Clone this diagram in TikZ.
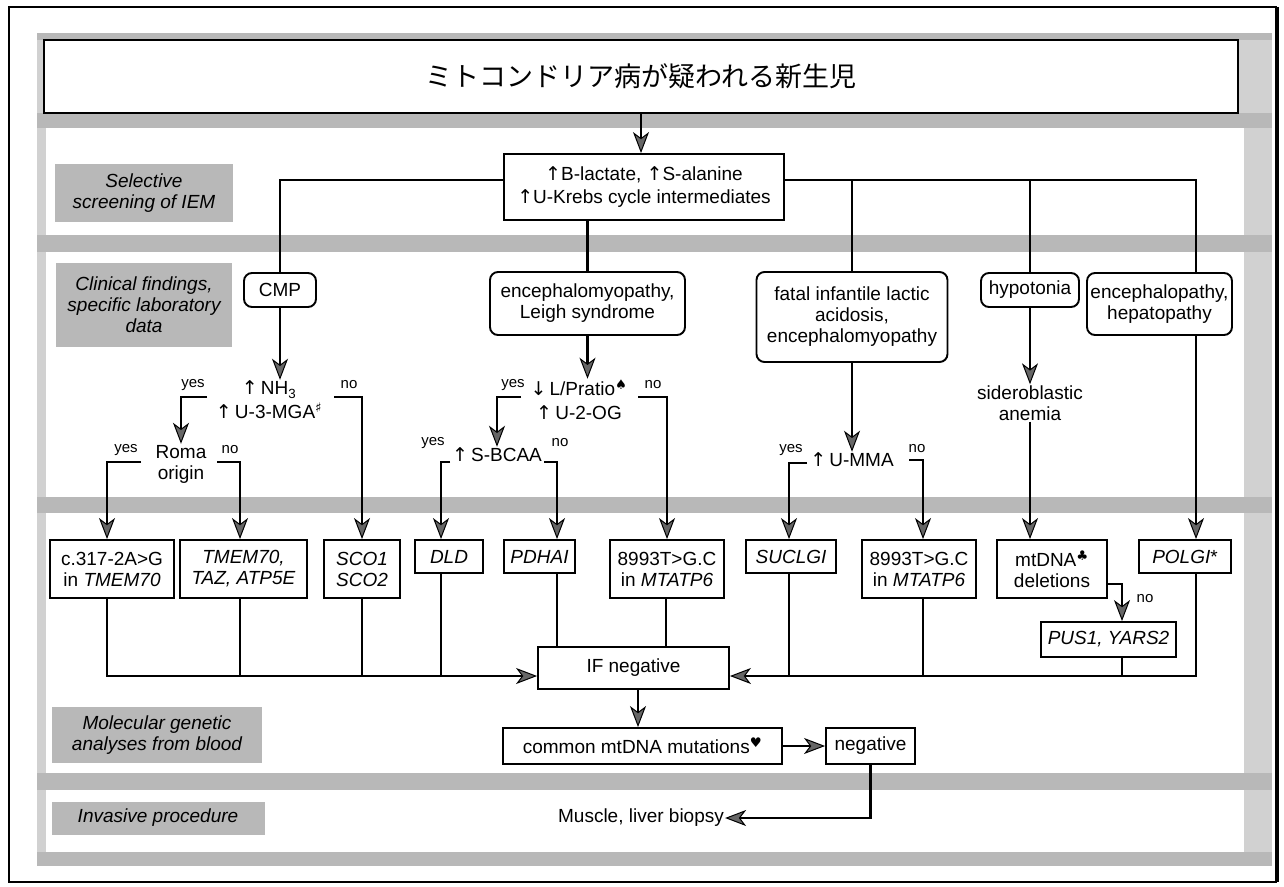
\documentclass[tikz,border=0pt]{standalone}
\usepackage{fontspec}
\setmainfont{Liberation Sans}
\newfontfamily\cjk{Noto Sans CJK JP}
\newfontfamily\symf{DejaVu Sans}
\usetikzlibrary{arrows.meta}
\newcommand\mainfs{\fontsize{19}{21}\selectfont}
\newcommand\ynfs{\fontsize{15}{17}\selectfont}
\newcommand\upa{{\symf ↑}}
\newcommand\dna{{\symf ↓}}
\definecolor{bggray}{gray}{0.82}
\definecolor{stripegray}{gray}{0.72}
\definecolor{lblgray}{gray}{0.72}
\definecolor{arrgray}{gray}{0.40}
\tikzset{
  box/.style={draw, line width=1.9pt, fill=white, inner sep=0pt, align=center, font=\mainfs},
  rbox/.style={box, rounded corners=8pt},
  lbl/.style={fill=lblgray, inner sep=0pt, align=center, font=\mainfs\itshape},
  txt/.style={inner sep=1pt, align=center, font=\mainfs},
  yn/.style={inner sep=0pt, font=\ynfs},
  conn/.style={line width=2.5pt},
  arr/.style={conn, -{Stealth[length=21pt, width=16pt, inset=6pt, fill=arrgray, line width=1pt]}}
}
\begin{document}
\begin{tikzpicture}[x=1pt,y=-1pt]
\fill[white] (0,0) rectangle (1284,886);
\useasboundingbox (0,0) rectangle (1284,886);
% background
\fill[bggray] (37,33) rectangle (1272,866);
\foreach \a/\b in {33/40,113/128,235/252,497/513,773/790,852/866}
  \fill[stripegray] (37,\a) rectangle (1272,\b);
\foreach \a/\b in {128/235,252/497,513/773,790/852}
  \fill[white] (46,\a) rectangle (1244,\b);
\draw[line width=1.4pt] (9,7) rectangle (1276,882);
\draw[line width=4pt] (1277,7) -- (1277,882);

% title
\node[box, line width=2pt, minimum width=1194pt, minimum height=73pt, font=\cjk\fontsize{27}{30}\selectfont] (title) at (641,76.5) {ミトコンドリア病が疑われる新生児};

% section labels
\node[lbl, minimum width=178pt, minimum height=58pt] (Lsel) at (144,193) {Selective\\screening of IEM};
\node[lbl, minimum width=176pt, minimum height=84pt] (Lclin) at (144,305) {Clinical findings,\\specific laboratory\\data};
\node[lbl, minimum width=210pt, minimum height=56pt] (Lmol) at (157,735) {Molecular genetic\\analyses from blood};
\node[lbl, minimum width=213pt, minimum height=33pt] (Linv) at (158,818) {Invasive procedure};

% screening
\node[box, minimum width=280pt, minimum height=66pt] (scr) at (644,187) {\upa B-lactate, \upa S-alanine\\[2pt]\upa U-Krebs cycle intermediates};
\draw[arr] (title.south) -- (title.south |- scr.north);

% clinical boxes
\node[rbox, minimum width=72pt, minimum height=34pt] (cmp) at (280,290) {CMP};
\node[rbox, minimum width=195pt, minimum height=63pt] (enc) at (587.5,303.5) {encephalomyopathy,\\Leigh syndrome};
\node[rbox, minimum width=191pt, minimum height=90pt] (fatal) at (852,317) {fatal infantile lactic\\acidosis,\\encephalomyopathy};
\node[rbox, minimum width=98pt, minimum height=34pt] (hypo) at (1030,290) {hypotonia};
\node[rbox, minimum width=145pt, minimum height=62pt] (hep) at (1159.5,304) {encephalopathy,\\hepatopathy};

\coordinate (bF) at (852,180);
\coordinate (bH) at (1030,180);
\draw[conn] (scr.west |- 0,180) -| (cmp.north);
\draw[conn] (scr.east |- 0,180) -| (1196,0 |- hep.north);
\draw[conn] (scr.south -| enc.north) -- (enc.north);
\draw[conn] (bF) -- (fatal.north);
\draw[conn] (bH) -- (hypo.north);

% decision texts
\node[txt] (nh3) at (269,400) {\upa\,NH\textsubscript{3}\\[3pt]\upa\,U-3-MGA\textsuperscript{\symf ♯}};
\node[txt] (lp) at (579,400) {\dna\,L/Pratio\textsuperscript{\symf ♠}\\[3pt]\upa\,U-2-OG};
\node[txt] (roma) at (181,464) {Roma\\origin};
\node[txt] (sbcaa) at (497,455) {\upa\,S-BCAA};
\node[txt] (umma) at (852,460) {\upa\,U-MMA};
\node[txt] (sid) at (1030,403) {sideroblastic\\anemia};

\draw[arr] (cmp.south) -- (cmp.south |- nh3.north);
\draw[arr] (enc.south) -- (enc.south |- lp.north);
\draw[arr] (fatal.south) -- (fatal.south |- umma.north);
\draw[arr] (hypo.south) -- (hypo.south |- sid.north);

% yes / no labels
\node[yn] (y1) at (193,385) {yes};
\node[yn] (n1) at (349,385) {no};
\node[yn] (y2) at (126,450) {yes};
\node[yn] (n2) at (230,450) {no};
\node[yn] (y3) at (513,385) {yes};
\node[yn] (n3) at (653,385) {no};
\node[yn] (y4) at (433,443) {yes};
\node[yn] (n4) at (560,443) {no};
\node[yn] (y5) at (791,450) {yes};
\node[yn] (n5) at (917,449) {no};
\node[yn] (n6) at (1145,599) {no};

\coordinate (y1s) at (207,397);
\coordinate (n1s) at (334,397);
\coordinate (y2s) at (141,462);
\coordinate (n2s) at (217,462);
\coordinate (y3s) at (521,397);
\coordinate (n3s) at (638,397);
\coordinate (y4s) at (450,462);
\coordinate (n4s) at (544,462);
\coordinate (y5s) at (807,463);
\coordinate (n5s) at (909,460);

% molecular boxes
\node[box, minimum width=124pt, minimum height=58pt] (c317) at (112,569) {c.317-2A>G\\in \textit{TMEM70}};
\node[box, minimum width=127pt, minimum height=58pt] (tmem) at (243.5,569) {\textit{TMEM70,}\\\textit{TAZ, ATP5E}};
\node[box, minimum width=76pt, minimum height=58pt] (sco) at (362,569) {\textit{SCO1}\\\textit{SCO2}};
\node[box, minimum width=68pt, minimum height=33pt] (dld) at (449,556.5) {\textit{DLD}};
\node[box, minimum width=71pt, minimum height=33pt] (pdhai) at (539.5,556.5) {\textit{PDHAI}};
\node[box, minimum width=114pt, minimum height=58pt] (mt1) at (667,569) {8993T>G.C\\in \textit{MTATP6}};
\node[box, minimum width=90pt, minimum height=33pt] (suclgi) at (791,556.5) {\textit{SUCLGI}};
\node[box, minimum width=114pt, minimum height=58pt] (mt2) at (919,569) {8993T>G.C\\in \textit{MTATP6}};
\node[box, minimum width=110pt, minimum height=58pt] (mtdna) at (1052,569) {mtDNA\textsuperscript{\symf ♣}\\deletions};
\node[box, minimum width=92pt, minimum height=33pt] (polgi) at (1185,556.5) {\textit{POLGI}*};
\node[box, minimum width=135pt, minimum height=35pt] (pus1) at (1108.5,639.5) {\textit{PUS1, YARS2}};

% yes/no brackets
\draw[arr] (y1s) -| (roma.north);
\draw[arr] (n1s) -| (sco.north);
\draw[arr] (y2s) -| (107,0 |- c317.north);
\draw[arr] (n2s) -| (240,0 |- tmem.north);
\draw[arr] (y3s) -| (sbcaa.north);
\draw[arr] (n3s) -| (mt1.north);
\draw[arr] (y4s) -| (441,0 |- dld.north);
\draw[arr] (n4s) -| (557,0 |- pdhai.north);
\draw[arr] (y5s) -| (789,0 |- suclgi.north);
\draw[arr] (n5s) -| (923,0 |- mt2.north);
\draw[arr] (sid.south) -- (sid.south |- mtdna.north);
\draw[arr] (1196,0 |- hep.south) -- (1196,0 |- polgi.north);
\draw[arr] (mtdna.east |- 0,584) -| (1122,0 |- pus1.north);

% IF negative and below
\node[box, minimum width=191pt, minimum height=42pt] (ifneg) at (633.5,668) {IF negative};
\node[box, minimum width=279pt, minimum height=36pt] (common) at (642.5,746) {common mtDNA mutations\textsuperscript{\symf ♥}};
\node[box, minimum width=89pt, minimum height=36pt] (neg) at (870.5,746) {negative};
\node[txt] (mus) at (641,818) {Muscle, liver biopsy};

% collectors
\draw[arr] (107,0 |- c317.south) |- (ifneg.west |- 0,676);
\draw[conn] (240,0 |- tmem.south) -- (240,676);
\draw[conn] (362,0 |- sco.south) -- (362,676);
\draw[conn] (441,0 |- dld.south) -- (441,676);
\draw[conn] (557,0 |- pdhai.south) -- (557,0 |- ifneg.north);
\draw[conn] (666,0 |- mt1.south) -- (666,0 |- ifneg.north);
\draw[arr] (1196,0 |- polgi.south) |- (ifneg.east |- 0,676);
\draw[conn] (789,0 |- suclgi.south) -- (789,676);
\draw[conn] (923,0 |- mt2.south) -- (923,676);
\draw[conn] (1122,0 |- pus1.south) -- (1122,676);

\draw[arr] (ifneg.south -| 638,0) -- (638,0 |- common.north);
\draw[arr] (common.east) -- (neg.west);
\draw[arr] (neg.south) |- (mus.east);
\end{tikzpicture}
\end{document}
